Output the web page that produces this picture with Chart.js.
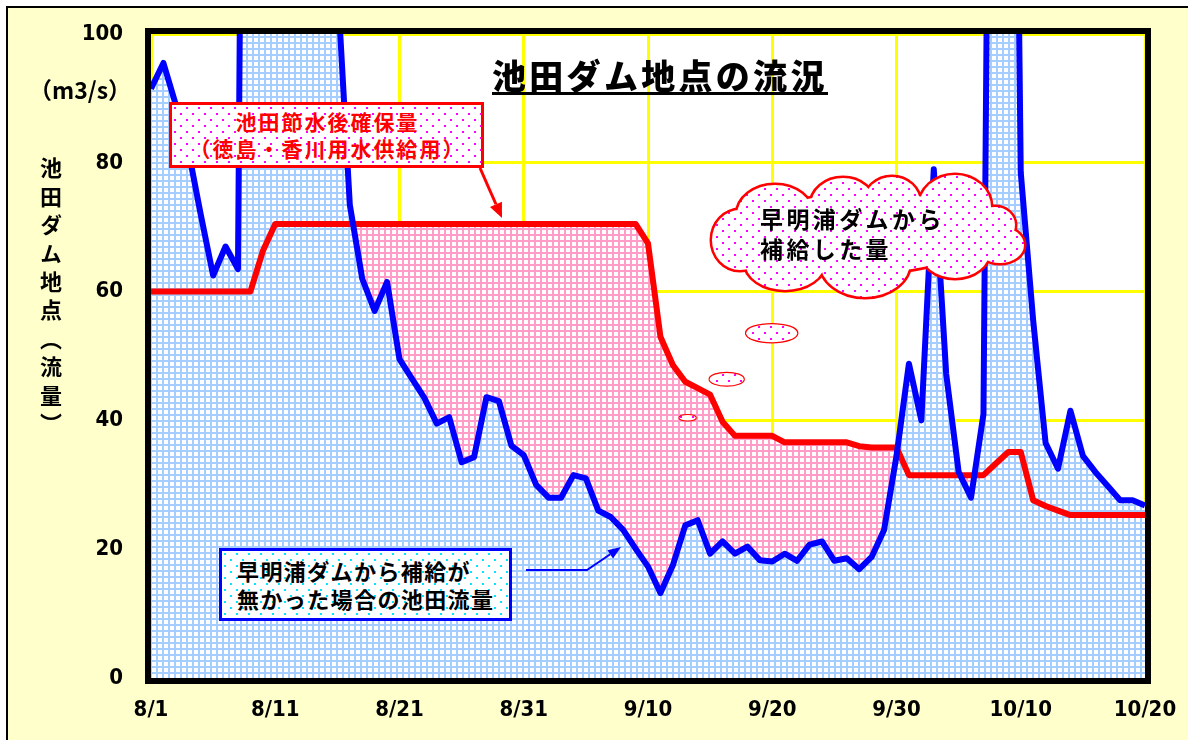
<!DOCTYPE html>
<html lang="ja">
<head>
<meta charset="utf-8">
<title>池田ダム地点の流況</title>
<script src="https://cdn.jsdelivr.net/npm/chart.js@4.4.1/dist/chart.umd.min.js"></script>
<style>
    html, body { margin: 0; padding: 0; background: #fff; }
    #wrap { position: relative; width: 1188px; height: 740px; overflow: hidden; }
    #flowChart { position: absolute; left: 0; top: 0; }
    .note { position: absolute; font-family: 'Noto Sans CJK JP', sans-serif; font-weight: bold; white-space: nowrap; box-sizing: border-box; }
    #title { left: 492px; top: 58px; font-size: 34px; line-height: 34px; letter-spacing: 3.3px; font-weight: 900; border-bottom: 3px solid #000; color: #000; }
    #unit { left: 29px; top: 75px; font-family: 'Liberation Sans Narrow', 'Noto Sans CJK JP', sans-serif; font-size: 23px; line-height: 28px; letter-spacing: 0; color: #000; }
    #yTitle { left: 40px; top: 157px; font-size: 22px; line-height: 22px; letter-spacing: 6.4px; writing-mode: vertical-rl; text-orientation: upright; color: #000; }
    #secBox { left: 169px; top: 102px; width: 315px; height: 66px; border: 3px solid #ff0000; color: #ff0000; font-size: 21px; line-height: 26.6px; letter-spacing: 2px; text-align: center; padding-top: 3.4px; padding-left: 2px; background-color: #fff; }
    #noSupplyBox { left: 219px; top: 548px; width: 293px; height: 73px; border: 3px solid #0000ff; color: #000; font-size: 22px; line-height: 28px; letter-spacing: 1.4px; padding-left: 15px; padding-top: 5px; background-color: #fff; }
    #cloudText { left: 760px; top: 203px; font-size: 23px; line-height: 30px; letter-spacing: 3.4px; color: #000; }
</style>
</head>
<body>
<div id="wrap">
    <canvas id="flowChart" width="1188" height="740"></canvas>
    <div class="note" id="title">池田ダム地点の流況</div>
    <div class="note" id="unit">（m3/s）</div>
    <div class="note" id="yTitle">池田ダム地点（流量）</div>
    <div class="note" id="secBox">池田節水後確保量<br>（徳島・香川用水供給用）</div>
    <div class="note" id="noSupplyBox">早明浦ダムから補給が<br>無かった場合の池田流量</div>
    <div class="note" id="cloudText">早明浦ダムから<br>補給した量</div>
</div>
<script>
// x tick labels, one every 10 days starting 8/1
const tickLabels = ['8/1', '8/11', '8/21', '8/31', '9/10', '9/20', '9/30', '10/10', '10/20'];

// daily flow at Ikeda without Sameura supply (m3/s), 8/1 .. 10/21
const flowNoSupply = [
    91.5, 95.5, 89, 82, 72, 62.5, 67, 63.5, 320, 280,
    240, 200, 180, 160, 140, 108, 73.5, 62, 57, 61.5,
    49.5, 46.5, 43.5, 39.5, 40.5, 33.5, 34.3, 43.6, 43, 36.1,
    34.6, 30, 28, 28, 31.5, 31, 26, 25, 23, 20.1,
    17.3, 13.2, 17.5, 23.7, 24.5, 19.3, 21.2, 19.3, 20.4, 18.3,
    18.1, 19.3, 18.2, 20.7, 21.2, 18.2, 18.6, 16.9, 18.8, 23,
    34.5, 48.8, 40, 79, 47.2, 32, 28, 41, 280, 250,
    78.5, 55.5, 36.5, 32.5, 41.5, 34.5, 32, 29.8, 27.6, 27.6,
    26.8, 0
];

// secured flow after water saving (m3/s), 8/1 .. 10/20
const securedFlow = [
    60, 60, 60, 60, 60, 60, 60, 60, 60, 66.3,
    70.5, 70.5, 70.5, 70.5, 70.5, 70.5, 70.5, 70.5, 70.5, 70.5,
    70.5, 70.5, 70.5, 70.5, 70.5, 70.5, 70.5, 70.5, 70.5, 70.5,
    70.5, 70.5, 70.5, 70.5, 70.5, 70.5, 70.5, 70.5, 70.5, 70.5,
    67.5, 53, 48.6, 46, 45, 44, 39.8, 37.6, 37.6, 37.6,
    37.6, 36.6, 36.6, 36.6, 36.6, 36.6, 36.6, 36, 35.8, 35.8,
    35.8, 31.5, 31.5, 31.5, 31.5, 31.5, 31.5, 31.5, 33.3, 35.1,
    35.1, 27.6, 26.7, 26, 25.3, 25.3, 25.3, 25.3, 25.3, 25.3,
    25.3
];

function tile(w, h, draw) {
    const c = document.createElement('canvas');
    c.width = w;
    c.height = h;
    const g = c.getContext('2d');
    g.fillStyle = '#ffffff';
    g.fillRect(0, 0, w, h);
    draw(g);
    return c;
}

function gridTile(color) {
    return tile(6, 6, g => {
        g.fillStyle = color;
        g.fillRect(0, 0, 6, 2);
        g.fillRect(0, 0, 2, 6);
    });
}

function dotTile(color) {
    return tile(12, 12, g => {
        g.fillStyle = color;
        g.fillRect(2, 2, 2, 2);
        g.fillRect(8, 8, 2, 2);
    });
}

const ctx = document.getElementById('flowChart').getContext('2d');
const bluePattern = ctx.createPattern(gridTile('#a6cdff'), 'repeat');
const pinkPattern = ctx.createPattern(gridTile('#ff9cc8'), 'repeat');
const magentaDotTile = dotTile('#ff00ff');
const magentaDots = ctx.createPattern(magentaDotTile, 'repeat');

document.getElementById('secBox').style.backgroundImage = `url(${magentaDotTile.toDataURL()})`;
document.getElementById('noSupplyBox').style.backgroundImage = `url(${dotTile('#00e8ff').toDataURL()})`;

function drawArrow(c, pts, color, width, headLen, headW) {
    const n = pts.length;
    const [x1, y1] = pts[n - 2];
    const [x2, y2] = pts[n - 1];
    const ang = Math.atan2(y2 - y1, x2 - x1);
    const bx = x2 - headLen * Math.cos(ang);
    const by = y2 - headLen * Math.sin(ang);
    c.strokeStyle = color;
    c.fillStyle = color;
    c.lineWidth = width;
    c.beginPath();
    c.moveTo(pts[0][0], pts[0][1]);
    for (let i = 1; i < n - 1; i++) c.lineTo(pts[i][0], pts[i][1]);
    c.lineTo(bx, by);
    c.stroke();
    c.beginPath();
    c.moveTo(x2, y2);
    c.lineTo(bx + headW / 2 * Math.sin(ang), by - headW / 2 * Math.cos(ang));
    c.lineTo(bx - headW / 2 * Math.sin(ang), by + headW / 2 * Math.cos(ang));
    c.closePath();
    c.fill();
}

function bubble(c, shapes, lineWidth) {
    c.strokeStyle = '#ff0000';
    c.lineWidth = lineWidth;
    shapes.forEach(s => {
        c.beginPath();
        c.ellipse(s[0], s[1], s[2], s[3], 0, 0, Math.PI * 2);
        c.stroke();
    });
    c.fillStyle = magentaDots;
    shapes.forEach(s => {
        c.beginPath();
        c.ellipse(s[0], s[1], s[2], s[3], 0, 0, Math.PI * 2);
        c.fill();
    });
}

const decorPlugin = {
    id: 'decor',
    beforeDraw(chart) {
        const c = chart.ctx;
        const a = chart.chartArea;
        c.save();
        c.fillStyle = '#ffffff';
        c.fillRect(0, 0, chart.width, chart.height);
        c.fillStyle = '#ffffcc';
        c.fillRect(7, 7, chart.width, chart.height);
        c.strokeStyle = '#000000';
        c.lineWidth = 2;
        c.beginPath();
        c.moveTo(7, chart.height);
        c.lineTo(7, 7);
        c.lineTo(chart.width, 7);
        c.stroke();
        c.fillStyle = '#ffffff';
        c.fillRect(a.left, a.top, a.right - a.left, a.bottom - a.top);
        c.restore();
    },
    afterDraw(chart) {
        const c = chart.ctx;
        const a = chart.chartArea;
        c.save();
        // plot frame
        c.strokeStyle = '#000000';
        c.lineWidth = 6;
        c.strokeRect(a.left - 3, a.top - 3, a.right - a.left + 6, a.bottom - a.top + 6);

        // cloud callout
        bubble(c, [
            [775, 215, 38, 30], [843, 205, 32, 27], [892, 203, 28, 26], [955, 207, 36, 32],
            [995, 225, 20, 18], [1000, 245, 24, 18], [955, 250, 35, 28], [865, 262, 45, 35],
            [785, 262, 40, 28], [740, 240, 28, 30], [870, 232, 110, 40]
        ], 5);
        bubble(c, [[771.7, 333.2, 25.5, 9]], 2.6);
        bubble(c, [[726.7, 379.2, 17, 6.3]], 2.4);
        bubble(c, [[687.6, 417.8, 8.2, 2.8]], 2);

        drawArrow(c, [[480, 168], [502, 218]], '#ff0000', 3, 15, 13);
        drawArrow(c, [[526, 570], [587, 570], [621, 547]], '#0000ff', 2, 13, 10);
        c.restore();
    }
};

const tickFont = {
    family: "'Liberation Sans Narrow', 'DejaVu Sans Condensed', 'Liberation Sans', sans-serif",
    size: 22,
    weight: 'bold'
};

new Chart(ctx, {
    type: 'line',
    data: {
        datasets: [
            {
                label: '早明浦ダムから補給が無かった場合の池田流量',
                data: flowNoSupply.map((v, i) => ({ x: i, y: v })),
                borderColor: '#0000ff',
                borderWidth: 6,
                borderJoinStyle: 'round',
                pointRadius: 0,
                tension: 0,
                fill: 'origin',
                backgroundColor: bluePattern
            },
            {
                label: '池田節水後確保量',
                data: securedFlow.map((v, i) => ({ x: i, y: v })),
                borderColor: '#ff0000',
                borderWidth: 6,
                borderJoinStyle: 'round',
                pointRadius: 0,
                tension: 0,
                fill: { target: 0, above: pinkPattern, below: 'rgba(0,0,0,0)' }
            }
        ]
    },
    options: {
        responsive: false,
        animation: false,
        layout: { padding: { top: 34, right: 43, left: 0, bottom: 0 } },
        plugins: {
            legend: { display: false },
            tooltip: { enabled: false },
            filler: { drawTime: 'beforeDatasetsDraw' }
        },
        scales: {
            x: {
                type: 'linear',
                min: 0,
                max: 80,
                border: { display: false },
                grid: { color: '#ffff00', lineWidth: 3, drawTicks: false },
                ticks: {
                    stepSize: 10,
                    padding: 19,
                    color: '#000',
                    font: tickFont,
                    maxRotation: 0,
                    autoSkip: false,
                    callback: v => tickLabels[v / 10]
                },
                afterFit: s => {
                    s.height = 62;
                    s.paddingLeft = 0;
                    s.paddingRight = 0;
                }
            },
            y: {
                min: 0,
                max: 100,
                border: { display: false },
                grid: { color: '#ffff00', lineWidth: 3, drawTicks: false },
                ticks: { stepSize: 20, padding: 28, color: '#000', font: tickFont },
                afterFit: s => {
                    s.width = 151;
                    s.paddingTop = 0;
                    s.paddingBottom = 0;
                }
            }
        }
    },
    plugins: [decorPlugin]
});
</script>
</body>
</html>
